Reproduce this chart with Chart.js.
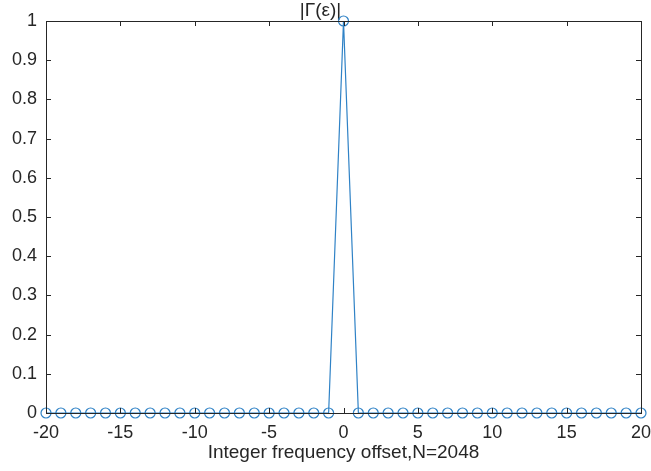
<!DOCTYPE html>
<html>
<head>
<meta charset="utf-8">
<script src="https://cdn.jsdelivr.net/npm/chart.js@4.4.0/dist/chart.umd.min.js"></script>
<style>
  html, body { margin: 0; padding: 0; background: #fff; }
  #wrap { width: 651px; height: 471px; }
</style>
</head>
<body>
<div id="wrap"><canvas id="plot" width="651" height="471"></canvas></div>
<script>
// Data
const offsets = [-20, -19, -18, -17, -16, -15, -14, -13, -12, -11, -10, -9, -8, -7, -6, -5, -4, -3, -2, -1,
                 0, 1, 2, 3, 4, 5, 6, 7, 8, 9, 10, 11, 12, 13, 14, 15, 16, 17, 18, 19, 20];
const gamma = [0, 0, 0, 0, 0, 0, 0, 0, 0, 0, 0, 0, 0, 0, 0, 0, 0, 0, 0, 0,
               1, 0, 0, 0, 0, 0, 0, 0, 0, 0, 0, 0, 0, 0, 0, 0, 0, 0, 0, 0, 0];
const xTicks = [-20, -15, -10, -5, 0, 5, 10, 15, 20];
const yTicks = [0, 0.1, 0.2, 0.3, 0.4, 0.5, 0.6, 0.7, 0.8, 0.9, 1];

const axisColor = '#262626';
const lineColor = '#2f82c6';
const font = "'Liberation Sans', Arial, Helvetica, sans-serif";

// MATLAB style box with inward ticks on all four sides
const boxPlugin = {
    id: 'box',
    afterDatasetsDraw(chart) {
        const { ctx, chartArea: a, scales } = chart;
        const len = 5;
        ctx.save();
        ctx.strokeStyle = axisColor;
        ctx.lineWidth = 1;
        ctx.beginPath();
        xTicks.forEach(v => {
            const px = Math.round(scales.x.getPixelForValue(v)) + 0.5;
            ctx.moveTo(px, a.bottom); ctx.lineTo(px, a.bottom - len);
            ctx.moveTo(px, a.top); ctx.lineTo(px, a.top + len);
        });
        yTicks.forEach(v => {
            const py = Math.round(scales.y.getPixelForValue(v)) + 0.5;
            ctx.moveTo(a.left, py); ctx.lineTo(a.left + len, py);
            ctx.moveTo(a.right, py); ctx.lineTo(a.right - len, py);
        });
        ctx.stroke();
        ctx.strokeRect(Math.round(a.left) + 0.5, Math.round(a.top) + 0.5,
                       Math.round(a.right - a.left), Math.round(a.bottom - a.top));
        ctx.restore();
    }
};

new Chart(document.getElementById('plot'), {
    type: 'line',
    data: {
        datasets: [{
            data: offsets.map((x, i) => ({ x: x, y: gamma[i] })),
            borderColor: lineColor,
            borderWidth: 1.2,
            pointStyle: 'circle',
            pointRadius: 5,
            pointBorderWidth: 1.2,
            pointBorderColor: lineColor,
            pointBackgroundColor: 'rgba(0,0,0,0)',
            tension: 0,
            clip: false
        }]
    },
    options: {
        responsive: false,
        animation: false,
        layout: { padding: { left: 0, right: 10, top: 0, bottom: 0 } },
        plugins: {
            legend: { display: false },
            tooltip: { enabled: false },
            title: {
                display: true,
                text: '|Γ(ε)|',
                color: axisColor,
                font: { family: font, size: 19, weight: 'normal', lineHeight: 1.1 },
                padding: { top: 0, bottom: 0.1 }
            }
        },
        scales: {
            x: {
                type: 'linear',
                min: -20,
                max: 20,
                afterFit(s) { s.height = 58; s.paddingLeft = 0; s.paddingRight = 0; },
                afterBuildTicks(s) { s.ticks = xTicks.map(v => ({ value: v })); },
                grid: { drawOnChartArea: false, drawTicks: false },
                border: { display: false },
                ticks: { color: axisColor, font: { family: font, size: 18 }, padding: 9, maxRotation: 0 },
                title: {
                    display: true,
                    text: 'Integer frequency offset,N=2048',
                    color: axisColor,
                    font: { family: font, size: 19, lineHeight: 1.2 },
                    padding: { top: 0, bottom: 7 }
                }
            },
            y: {
                type: 'linear',
                min: 0,
                max: 1,
                afterFit(s) { s.width = 46; s.paddingTop = 0; s.paddingBottom = 0; },
                afterBuildTicks(s) { s.ticks = yTicks.map(v => ({ value: v })); },
                grid: { drawOnChartArea: false, drawTicks: false },
                border: { display: false },
                ticks: {
                    color: axisColor,
                    font: { family: font, size: 18 },
                    padding: 9,
                    callback: v => String(v)
                }
            }
        }
    },
    plugins: [boxPlugin]
});
</script>
</body>
</html>
